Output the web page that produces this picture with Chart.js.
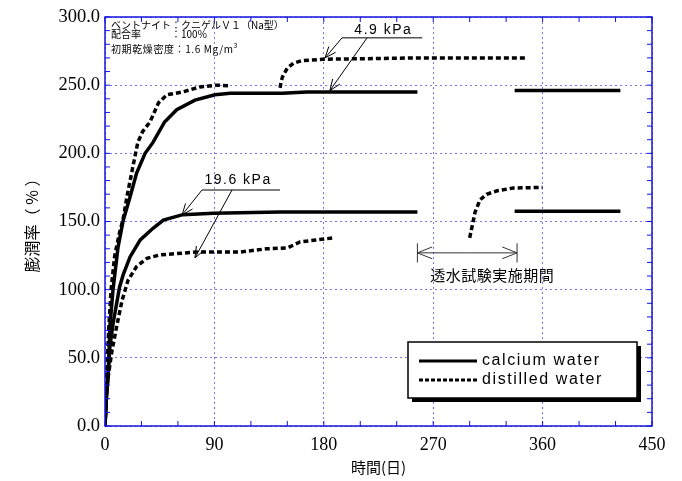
<!DOCTYPE html>
<html>
<head>
<meta charset="utf-8">
<script src="https://cdn.jsdelivr.net/npm/chart.js@4/dist/chart.umd.min.js"></script>
<style>
  html, body { margin: 0; padding: 0; background: #fff; }
</style>
</head>
<body>
<canvas id="swellChart" width="682" height="481"></canvas>
<script>
// elapsed days and swelling ratio (%); null = break in the record
var ca49Days = [0, 1, 2.7, 4, 6.6, 10.7, 15, 20.6, 26, 33, 39.5, 49, 59, 74, 90.5, 103, 146, 166, 257, 300, 337, 424];
var ca49Vals = [0, 20, 39, 73, 100, 131, 151, 168, 185.6, 200, 208, 223, 232, 239, 243, 244, 244, 245, 245, null, 246, 246];

var ca196Days = [0, 1, 2.7, 4, 6.6, 12, 15, 20.6, 29, 39.5, 48, 64, 89, 144, 257, 300, 337, 424];
var ca196Vals = [0, 18, 39, 58, 75, 102, 111, 124, 136.5, 145, 151, 155, 156, 157, 157, null, 157.5, 157.5];

var di49Days = [0, 1.5, 3, 5, 8, 12, 15, 18, 22, 27, 31, 37, 44, 51, 64, 78, 92, 103, 120, 144, 145, 146, 150, 155, 162, 179, 259, 347];
var di49Vals = [0, 40, 70, 100, 125, 142, 152, 168, 186, 208, 216, 223, 237, 243, 245, 248.7, 250, 249.5, null, 248, 253, 256, 262.6, 266, 268, 269, 270, 270];

var di196Days = [0, 1.6, 5.7, 9.6, 14, 19, 26, 34.5, 45, 52, 75.5, 111, 133, 150, 160.5, 188, 250, 300, 304.5, 308.6, 314, 322.6, 336, 360];
var di196Vals = [0, 30, 55, 73, 92, 107, 117, 123, 125.5, 126, 127.6, 127.6, 130, 130.6, 135, 138, null, 138, 157, 166, 170, 172.5, 174.6, 175];

var xTicks = [0, 90, 180, 270, 360, 450];
var yTicks = [0, 50, 100, 150, 200, 250, 300];

var AXIS_BLUE = '#1414dc';

function toPoints(days, vals) {
  var out = [];
  for (var i = 0; i < days.length; i++) {
    out.push({ x: days[i], y: vals[i] });
  }
  return out;
}

function lineSet(label, days, vals, dotted) {
  return {
    label: label,
    data: toPoints(days, vals),
    borderColor: '#000',
    borderWidth: 3.5,
    borderDash: dotted ? [5, 3] : [],
    pointRadius: 0,
    tension: 0,
    fill: false,
    spanGaps: false
  };
}

function arrow(ctx, x0, y0, x1, y1, head) {
  var ang = Math.atan2(y1 - y0, x1 - x0);
  ctx.beginPath();
  ctx.moveTo(x0, y0);
  ctx.lineTo(x1, y1);
  [-1, 1].forEach(function (s) {
    ctx.moveTo(x1, y1);
    ctx.lineTo(x1 - head * Math.cos(ang + s * 0.38), y1 - head * Math.sin(ang + s * 0.38));
  });
  ctx.stroke();
}

// frame with inner ticks, notes and the boxed legend
var decorPlugin = {
  id: 'decor',
  afterDraw: function (chart) {
    var ctx = chart.ctx, a = chart.chartArea;
    var xs = chart.scales.x, ys = chart.scales.y;
    var X = function (d) { return xs.getPixelForValue(d); };
    var Y = function (v) { return ys.getPixelForValue(v); };
    ctx.save();

    // frame + minor ticks
    ctx.strokeStyle = AXIS_BLUE;
    ctx.lineWidth = 1.5;
    ctx.strokeRect(a.left, a.top, a.right - a.left, a.bottom - a.top);
    ctx.lineWidth = 1;
    ctx.beginPath();
    for (var d = 0; d <= 450; d += 30) {
      ctx.moveTo(X(d), a.bottom); ctx.lineTo(X(d), a.bottom - 5);
      ctx.moveTo(X(d), a.top); ctx.lineTo(X(d), a.top + 5);
    }
    for (var v = 0; v <= 300; v += 10) {
      ctx.moveTo(a.left, Y(v)); ctx.lineTo(a.left + 5, Y(v));
      ctx.moveTo(a.right, Y(v)); ctx.lineTo(a.right - 5, Y(v));
    }
    ctx.stroke();

    // sample info
    ctx.fillStyle = '#000';
    ctx.font = '10px "Noto Sans CJK JP"';
    ctx.textBaseline = 'middle';
    ctx.textAlign = 'left';
    ctx.fillText('ベントナイト：クニゲルＶ１（Na型）', 111, 25);
    ctx.fillText('配合率', 111, 34);
    ctx.fillText('：100%', 171, 34);
    ctx.letterSpacing = '0.6px';
    var dens = '初期乾燥密度：1.6 Mg/m';
    ctx.fillText(dens, 111, 49);
    var w = ctx.measureText(dens).width;
    ctx.letterSpacing = '0px';
    ctx.font = '7px "Noto Sans CJK JP"';
    ctx.fillText('3', 111 + w, 45);

    // pressure notes
    ctx.strokeStyle = '#000';
    ctx.lineWidth = 1;
    ctx.beginPath();
    ctx.moveTo(X(195), Y(284.7)); ctx.lineTo(X(261), Y(284.7));
    ctx.moveTo(X(79.8), Y(173.1)); ctx.lineTo(X(144), Y(173.1));
    ctx.stroke();
    arrow(ctx, X(195), Y(284.7), X(181), Y(270), 12);
    arrow(ctx, X(215.6), Y(284.7), X(185), Y(246), 12);
    arrow(ctx, X(79.8), Y(173.1), X(63.4), Y(154.8), 12);
    arrow(ctx, X(104.5), Y(173.1), X(74), Y(123.3), 12);

    ctx.font = '14px "Liberation Sans"';
    ctx.letterSpacing = '1.5px';
    ctx.textAlign = 'center';
    ctx.fillText('4.9 kPa', X(229), Y(290.5));
    ctx.fillText('19.6 kPa', X(109.5), Y(180.5));

    // permeability test period
    ctx.strokeStyle = '#333';
    ctx.beginPath();
    ctx.moveTo(X(257), Y(120)); ctx.lineTo(X(257), Y(134));
    ctx.moveTo(X(339), Y(120)); ctx.lineTo(X(339), Y(134));
    ctx.stroke();
    arrow(ctx, X(298), Y(127), X(257), Y(127), 16);
    arrow(ctx, X(298), Y(127), X(339), Y(127), 16);
    ctx.font = '15px "Noto Sans CJK JP"';
    ctx.letterSpacing = '0.5px';
    ctx.fillText('透水試験実施期間', X(318.5), Y(110.8));

    // legend box
    ctx.letterSpacing = '0px';
    ctx.fillStyle = '#000';
    ctx.fillRect(412, 346, 229, 56);
    ctx.fillStyle = '#fff';
    ctx.fillRect(408, 342, 229, 56);
    ctx.strokeStyle = '#000';
    ctx.lineWidth = 1.5;
    ctx.strokeRect(408, 342, 229, 56);
    ctx.lineWidth = 3;
    ctx.beginPath();
    ctx.moveTo(419, 361); ctx.lineTo(477, 361);
    ctx.stroke();
    ctx.setLineDash([4, 2]);
    ctx.beginPath();
    ctx.moveTo(419, 380); ctx.lineTo(477, 380);
    ctx.stroke();
    ctx.setLineDash([]);
    ctx.fillStyle = '#000';
    ctx.textAlign = 'left';
    ctx.font = '16px "Liberation Sans"';
    ctx.letterSpacing = '1.6px';
    ctx.fillText('calcium water', 482, 361);
    ctx.fillText('distilled water', 482, 380);

    ctx.restore();
  }
};

var ctx = document.getElementById('swellChart').getContext('2d');

var swellChart = new Chart(ctx, {
  type: 'line',
  data: {
    datasets: [
      lineSet('calcium water 4.9 kPa', ca49Days, ca49Vals, false),
      lineSet('calcium water 19.6 kPa', ca196Days, ca196Vals, false),
      lineSet('distilled water 4.9 kPa', di49Days, di49Vals, true),
      lineSet('distilled water 19.6 kPa', di196Days, di196Vals, true)
    ]
  },
  options: {
    responsive: false,
    animation: false,
    layout: { padding: { left: 0, top: 17, right: 30, bottom: 0 } },
    plugins: {
      legend: { display: false },
      tooltip: { enabled: false }
    },
    scales: {
      x: {
        type: 'linear',
        min: 0,
        max: 450,
        afterFit: function (scale) { scale.height = 55; },
        afterBuildTicks: function (scale) {
          scale.ticks = xTicks.map(function (t) { return { value: t }; });
        },
        grid: { color: 'rgba(60,60,235,0.7)', lineWidth: 1, drawTicks: false },
        border: { display: false, dash: [2, 3] },
        ticks: {
          padding: 8,
          color: '#000',
          font: { family: 'Liberation Serif', size: 18 },
          maxRotation: 0
        },
        title: {
          display: true,
          text: '時間(日)',
          color: '#000',
          font: { family: '"Noto Sans CJK JP"', size: 15 },
          padding: { top: 0, bottom: 5 }
        }
      },
      y: {
        min: 0,
        max: 300,
        afterFit: function (scale) { scale.width = 105; },
        afterBuildTicks: function (scale) {
          scale.ticks = yTicks.map(function (t) { return { value: t }; });
        },
        grid: { color: 'rgba(60,60,235,0.7)', lineWidth: 1, drawTicks: false },
        border: { display: false, dash: [2, 3] },
        ticks: {
          padding: 5,
          color: '#000',
          font: { family: 'Liberation Serif', size: 18.5 },
          callback: function (v) { return v.toFixed(1); }
        },
        title: {
          display: true,
          text: '膨潤率（ % ）',
          color: '#000',
          font: { family: '"Noto Sans CJK JP"', size: 16 },
          padding: { top: 22, bottom: 0 }
        }
      }
    }
  },
  plugins: [decorPlugin]
});
</script>
</body>
</html>
